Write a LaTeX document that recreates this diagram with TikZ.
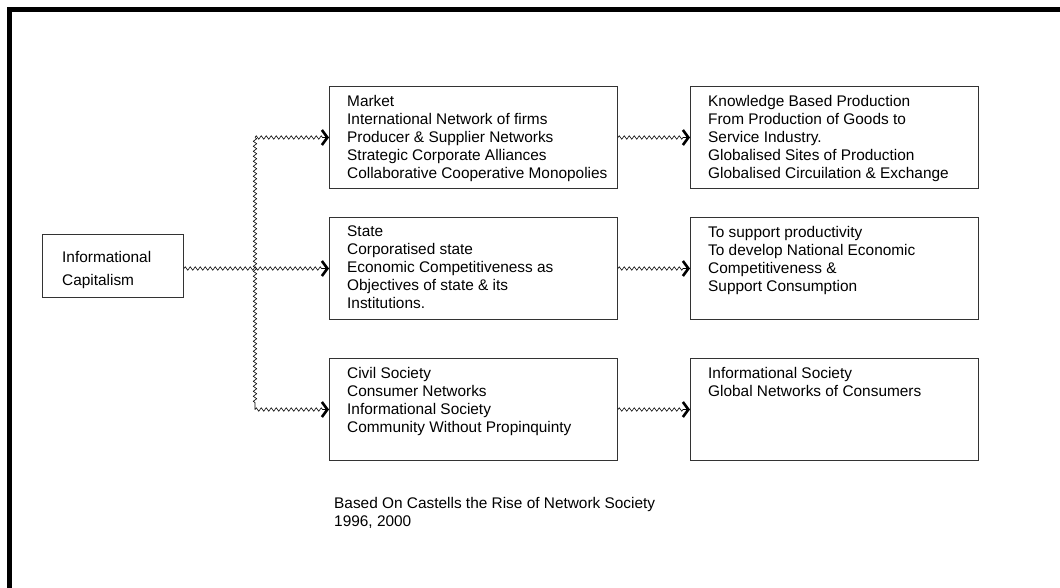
\documentclass[tikz,border=0pt]{standalone}
\usepackage{fontspec}
\setmainfont{Liberation Sans}
\usetikzlibrary{arrows.meta,decorations.pathmorphing}
\begin{document}
\begin{tikzpicture}[x=1pt,y=-1pt,
  box/.style={draw=black!80, line width=1pt, rectangle, inner sep=0pt, anchor=north west},
  txt/.style={anchor=north west, inner sep=0pt, align=left, font=\fontsize{15.4}{18}\selectfont},
  zz/.style={draw=black, line width=0.6pt, decorate,
    decoration={zigzag, segment length=5pt, amplitude=1.7pt, post length=6pt}},
  tip/.style={-{Straight Barb[line width=2.6pt, length=5.5pt, width=15pt]}}
]
\useasboundingbox (0,0) rectangle (1060,588);
\fill[white] (0,0) rectangle (1060,588);

% outer frame, only the top and left edges fall on the page
\draw[line width=4.5pt] (9.5,588) -- (9.5,9.5) -- (1060,9.5);

% root box
\node[box, minimum width=141pt, minimum height=63pt] (cap) at (42,234) {};
\node[txt, font=\fontsize{15.4}{23}\selectfont] (capt) at (62,251.5) {Informational\\Capitalism};

% middle column
\node[box, minimum width=288pt, minimum height=102pt] (market) at (329,86) {};
\node[txt] (markett) at (347,95) {Market\\International Network of firms\\Producer \& Supplier Networks\\Strategic Corporate Alliances\\Collaborative Cooperative Monopolies};

\node[box, minimum width=288pt, minimum height=102pt] (state) at (329,217) {};
\node[txt] (statet) at (347,226) {State\\Corporatised state\\Economic Competitiveness as\\Objectives of state \& its\\Institutions.};

\node[box, minimum width=288pt, minimum height=102pt] (civil) at (329,358) {};
\node[txt] (civilt) at (347,367) {Civil Society\\Consumer Networks\\Informational Society\\Community Without Propinquinty};

% right column
\node[box, minimum width=288pt, minimum height=102pt] (prod) at (690,86) {};
\node[txt] (prodt) at (708,95) {Knowledge Based Production\\From Production of Goods to\\Service Industry.\\Globalised Sites of Production\\Globalised Circuilation \& Exchange};

\node[box, minimum width=288pt, minimum height=102pt] (supp) at (690,217) {};
\node[txt] (suppt) at (708,226) {To support productivity\\To develop National Economic\\Competitiveness \&\\Support Consumption};

\node[box, minimum width=288pt, minimum height=102pt] (soc) at (690,358) {};
\node[txt] (soct) at (708,367) {Informational Society\\Global Networks of Consumers};

% source note
\node[txt] (note) at (334,497) {Based On Castells the Rise of Network Society\\1996, 2000};

% branching connectors
\coordinate (trunk) at (255,0);
\draw[zz] (market.west -| trunk) -- (civil.west -| trunk);
\draw[zz, tip] (cap.east |- state.west) -- (state.west);
\draw[zz, tip] (market.west -| trunk) -- (market.west);
\draw[zz, tip] (civil.west -| trunk) -- (civil.west);

% middle to right
\draw[zz, tip] (market.east) -- (prod.west);
\draw[zz, tip] (state.east) -- (supp.west);
\draw[zz, tip] (civil.east) -- (soc.west);
\end{tikzpicture}
\end{document}
